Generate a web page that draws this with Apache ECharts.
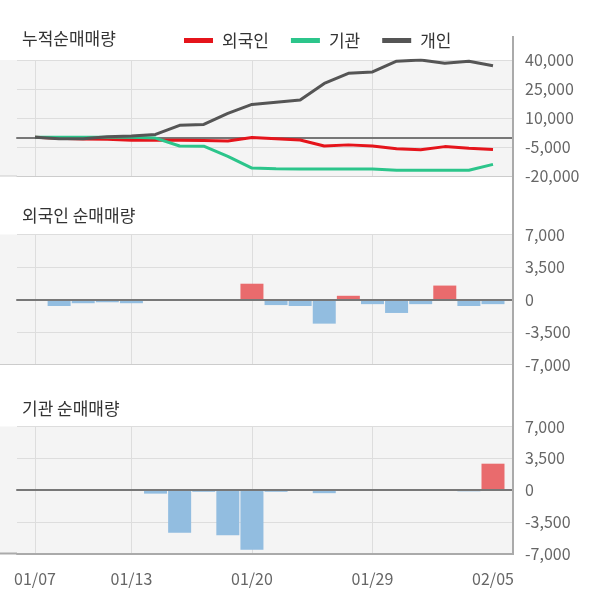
<!DOCTYPE html>
<html>
<head>
<meta charset="utf-8">
<script src="https://cdn.jsdelivr.net/npm/echarts@6/dist/echarts.min.js"></script>
<style>
html,body{margin:0;padding:0;background:#fff;}
#chart{width:600px;height:604px;}
</style>
</head>
<body>
<div id="chart"></div>
<script>
// ---- data ----
var dates = ['01/07','01/08','01/09','01/10','01/13','01/14','01/15','01/16','01/17','01/20','01/21','01/22','01/23','01/28','01/29','01/30','01/31','02/03','02/04','02/05'];
var dateLabelIndex = [0, 4, 9, 14, 19];
var dateGridIndex = [0, 4, 9, 14];
var seriesNames = ['외국인', '기관', '개인'];
var foreignCum = [0, -500, -800, -1000, -1500, -1500, -1500, -1600, -1900, -100, -700, -1400, -4500, -3900, -4500, -5900, -6400, -4800, -5600, -6300];
var instCum = [0, 0, 0, 0, 0, -400, -4500, -4600, -9800, -15900, -16200, -16400, -16400, -16400, -16400, -17000, -17000, -17000, -17000, -14000];
var indivCum = [0, -700, -700, 300, 700, 1500, 6200, 6700, 12400, 17000, 18200, 19300, 27900, 33100, 33800, 39400, 40000, 38300, 39400, 37000];
var foreignDaily = [0, -700, -400, -300, -400, 0, 0, 0, 0, 1700, -600, -700, -2600, 400, -500, -1450, -500, 1500, -700, -500];
var instDaily = [0, 0, 0, 0, 0, -400, -4700, -200, -5000, -6600, -200, 0, -350, 0, 0, 0, 0, 0, -150, 2900];
var cumTicks = [-20000, -5000, 10000, 25000, 40000];
var titles = ['누적순매매량', '외국인 순매매량', '기관 순매매량'];

// ---- style / layout ----
var FONT = 'Noto Sans CJK KR';
var C_RED = '#e5141b', C_GREEN = '#2cc58b', C_DARK = '#555555';
var C_POS = '#e96b6d', C_NEG = '#92bde0';
var X_MIN = -0.747, X_MAX = 19.83;
var GL = 17, GR = 87;
var grids = [
  {top: 60, height: 116},
  {top: 234.5, height: 130},
  {top: 426.5, height: 127}
];

function fmt(v){ return Number(v).toLocaleString('en-US'); }
function pairs(arr){ return arr.map(function(v,i){ return [i, v]; }); }
function barPairs(arr){
  return arr.map(function(v,i){
    return {value:[i, v], itemStyle:{color: v >= 0 ? C_POS : C_NEG}};
  });
}

var xAxes = [], yAxes = [], gridOpts = [], graphics = [];
grids.forEach(function(g, gi){
  var isLast = gi === grids.length - 1;
  gridOpts.push({left: GL, right: GR, top: g.top, height: g.height, show: true,
    backgroundColor: '#f4f4f4', borderWidth: 0});
  // main x axis (bottom line, labels, vertical grid)
  xAxes.push({
    type: 'value', gridIndex: gi, min: X_MIN, max: X_MAX, position: 'bottom',
    axisLine: {show: true, onZero: false, lineStyle: {color: isLast ? '#aaaaaa' : '#cccccc', width: isLast ? 2 : 1}},
    axisTick: {show: false, customValues: dateGridIndex},
    axisLabel: {show: isLast, customValues: dateLabelIndex, margin: 17,
      formatter: function(v){ return dates[Math.round(v)]; },
      fontFamily: FONT, fontSize: 16, color: '#666'},
    splitLine: {show: true, lineStyle: {color: '#dddddd', width: 1}}
  });
  // zero line axis
  xAxes.push({
    type: 'value', gridIndex: gi, min: X_MIN, max: X_MAX, position: 'bottom',
    z: gi === 0 ? 0 : 5,
    axisLine: {show: true, onZero: true, lineStyle: {color: '#777777', width: 2}},
    axisTick: {show: false}, axisLabel: {show: false}, splitLine: {show: false}
  });
  var yBase = {
    type: 'value', gridIndex: gi, position: 'right',
    axisLine: {show: false}, axisTick: {show: false},
    axisLabel: {margin: 12, fontFamily: FONT, fontSize: 16, color: '#666', formatter: fmt},
    splitLine: {show: true, lineStyle: {color: '#dddddd', width: 1}}
  };
  if (gi === 0) {
    yBase.min = -20000; yBase.max = 40000;
    yBase.axisLabel.customValues = cumTicks;
    yBase.axisTick.customValues = cumTicks;
  } else {
    yBase.min = -7000; yBase.max = 7000; yBase.interval = 3500;
  }
  yAxes.push(yBase);
  // left strip background and bottom line extension
  graphics.push({type: 'rect', shape: {x: 0, y: g.top, width: GL, height: g.height},
    style: {fill: '#f4f4f4'}, silent: true, z: -1});
  graphics.push({type: 'line', shape: {x1: 0, y1: g.top + g.height, x2: GL, y2: g.top + g.height},
    style: {stroke: isLast ? '#aaaaaa' : '#cccccc', lineWidth: isLast ? 2 : 1}, silent: true});
});
// right vertical axis line spanning all panels
graphics.push({type: 'line', shape: {x1: 513, y1: 36, x2: 513, y2: 555},
  style: {stroke: '#aaaaaa', lineWidth: 2}, silent: true, z: 10});

var titleTops = [30, 207, 400];
var titleOpts = titles.map(function(t, i){
  return {text: t, left: 22, top: titleTops[i], padding: 0,
    textStyle: {fontFamily: FONT, fontSize: 17, fontWeight: 'normal', color: '#333'}};
});

function lineSeries(name, data, color){
  return {name: name, type: 'line', xAxisIndex: 0, yAxisIndex: 0, data: pairs(data),
    symbol: 'none', lineStyle: {color: color, width: 3}, itemStyle: {color: color}, z: 3};
}

var option = {
  animation: false,
  backgroundColor: '#ffffff',
  textStyle: {fontFamily: FONT},
  title: titleOpts,
  legend: {
    data: seriesNames, left: 184, top: 32, padding: 0, icon: 'rect',
    itemWidth: 29, itemHeight: 5, itemGap: 22,
    textStyle: {fontFamily: FONT, fontSize: 17, color: '#333', padding: [0, 0, 0, 4]}
  },
  grid: gridOpts,
  xAxis: xAxes,
  yAxis: yAxes,
  graphic: graphics,
  series: [
    lineSeries(seriesNames[0], foreignCum, C_RED),
    lineSeries(seriesNames[1], instCum, C_GREEN),
    lineSeries(seriesNames[2], indivCum, C_DARK),
    {type: 'bar', xAxisIndex: 2, yAxisIndex: 1, barWidth: 23, data: barPairs(foreignDaily)},
    {type: 'bar', xAxisIndex: 4, yAxisIndex: 2, barWidth: 23, data: barPairs(instDaily)}
  ]
};
var chart = echarts.init(document.getElementById('chart'), null, {renderer: 'canvas'});
chart.setOption(option);
</script>
</body>
</html>
